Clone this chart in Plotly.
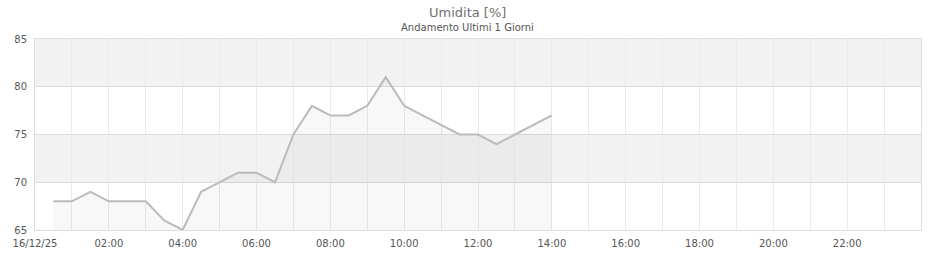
import plotly.graph_objects as go

times = ["2025-12-16 00:30", "2025-12-16 01:00", "2025-12-16 01:30", "2025-12-16 02:00",
         "2025-12-16 02:30", "2025-12-16 03:00", "2025-12-16 03:30", "2025-12-16 04:00",
         "2025-12-16 04:30", "2025-12-16 05:00", "2025-12-16 05:30", "2025-12-16 06:00",
         "2025-12-16 06:30", "2025-12-16 07:00", "2025-12-16 07:30", "2025-12-16 08:00",
         "2025-12-16 08:30", "2025-12-16 09:00", "2025-12-16 09:30", "2025-12-16 10:00",
         "2025-12-16 10:30", "2025-12-16 11:00", "2025-12-16 11:30", "2025-12-16 12:00",
         "2025-12-16 12:30", "2025-12-16 13:00", "2025-12-16 13:30", "2025-12-16 14:00"]
umidita = [68, 68, 69, 68, 68, 68, 66, 65, 69, 70, 71, 71, 70, 75, 78, 77, 77, 78, 81, 78,
           77, 76, 75, 75, 74, 75, 76, 77]

tick_vals = ["2025-12-16 00:00", "2025-12-16 02:00", "2025-12-16 04:00", "2025-12-16 06:00",
             "2025-12-16 08:00", "2025-12-16 10:00", "2025-12-16 12:00", "2025-12-16 14:00",
             "2025-12-16 16:00", "2025-12-16 18:00", "2025-12-16 20:00", "2025-12-16 22:00"]
tick_text = ["16/12/25", "02:00", "04:00", "06:00", "08:00", "10:00", "12:00", "14:00",
             "16:00", "18:00", "20:00", "22:00"]
y_ticks = [65, 70, 75, 80, 85]
gray_bands = [(70, 75), (80, 85)]

fig = go.Figure()
fig.add_trace(go.Scatter(
    x=times, y=umidita, mode="lines",
    line=dict(color="#bbbbbb", width=2),
    fill="tozeroy", fillcolor="rgba(0,0,0,0.028)",
    hoverinfo="x+y", showlegend=False,
))

for y0, y1 in gray_bands:
    fig.add_shape(type="rect", xref="paper", yref="y", x0=0, x1=1, y0=y0, y1=y1,
                  fillcolor="#f2f2f2", line_width=0, layer="below")

fig.update_layout(
    width=940, height=260,
    margin=dict(l=35, r=19, t=39, b=30, autoexpand=False),
    paper_bgcolor="white", plot_bgcolor="white",
    font=dict(family="DejaVu Sans", size=10, color="#555555"),
    annotations=[
        dict(text="Umidita [%]", xref="paper", yref="paper", x=0.4885, y=1.0, yshift=27,
             showarrow=False, font=dict(size=13, color="#707070"), xanchor="center", yanchor="middle"),
        dict(text="Andamento Ultimi 1 Giorni", xref="paper", yref="paper", x=0.4885, y=1.0, yshift=12,
             showarrow=False, font=dict(size=10, color="#555555"), xanchor="center", yanchor="middle"),
    ],
    xaxis=dict(
        type="date", range=["2025-12-16 00:00", "2025-12-17 00:00"],
        tickvals=tick_vals, ticktext=tick_text,
        showgrid=True, gridcolor="#e8e8f6", gridwidth=1,
        minor=dict(dtick=3600000, showgrid=True, gridcolor="#e8e8f6", gridwidth=1),
        showline=True, linecolor="#dddddd", linewidth=1, mirror=True,
        ticks="", zeroline=False, tickfont=dict(size=10, color="#555555"),
        ticklabelstandoff=4, automargin=False,
    ),
    yaxis=dict(
        range=[65, 85], tickvals=y_ticks,
        showgrid=True, gridcolor="#dddddd", gridwidth=1,
        showline=True, linecolor="#dddddd", linewidth=1, mirror=True,
        ticks="", zeroline=False, tickfont=dict(size=10, color="#555555"),
        ticklabelstandoff=5, automargin=False,
    ),
)

fig.write_html("out.html")
